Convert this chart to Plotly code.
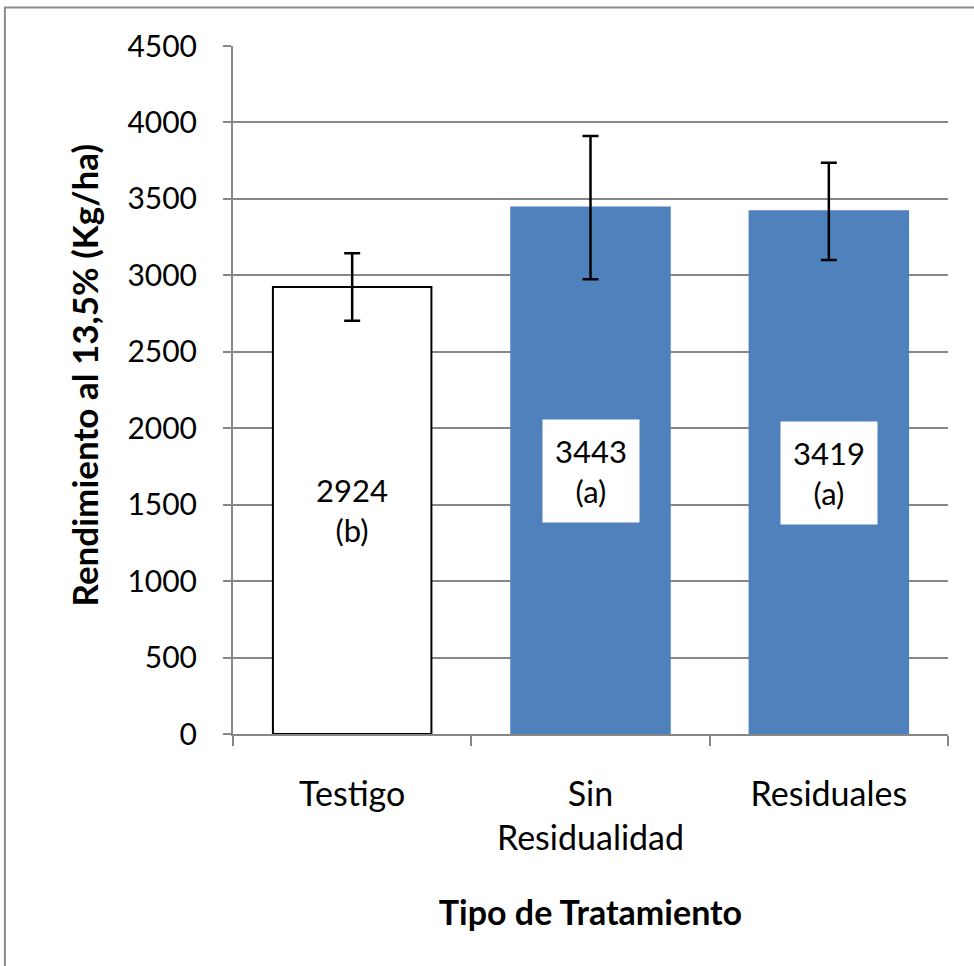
import plotly.graph_objects as go

categories = ["Testigo", "Sin<br>Residualidad", "Residuales"]
values = [2924, 3443, 3419]
errors = [221, 469, 318]
letters = ["(b)", "(a)", "(a)"]
fill_colors = ["white", "#4F81BD", "#4F81BD"]
line_colors = ["black", "#4F81BD", "#4F81BD"]
y_ticks = [0, 500, 1000, 1500, 2000, 2500, 3000, 3500, 4000, 4500]

FONT = "Lato"
GRID = "#868686"

fig = go.Figure()
fig.add_trace(go.Bar(
    x=categories, y=values,
    marker=dict(color=fill_colors, line=dict(color=line_colors, width=2)),
    error_y=dict(type="data", array=errors, visible=True, color="black", thickness=2.5, width=8),
    width=0.665,
    showlegend=False,
))

for c, v, l in zip(categories, values, letters):
    fig.add_annotation(
        x=c, y=v / 2, text=f"{v}<br>{l}", showarrow=False,
        font=dict(family=FONT, size=31, color="black"),
        bgcolor="white", borderpad=12, xref="x", yref="y",
    )

# y-axis title (placed slightly above centre as in the reference)
fig.add_annotation(
    text="<b>Rendimiento al 13,5% (Kg/ha)</b>", textangle=-90,
    xref="paper", yref="paper", x=-0.209, y=0.522,
    xanchor="center", yanchor="middle", showarrow=False,
    font=dict(family=FONT, size=35, color="black"),
)

fig.add_shape(type="rect", xref="paper", yref="paper",
              x0=-0.319, x1=1.06, y0=-0.36, y1=1.056,
              line=dict(color="#8c8c8c", width=2), layer="below")

fig.update_layout(
    width=974, height=966, autosize=False,
    margin=dict(l=233, r=26, t=46, b=232),
    paper_bgcolor="white", plot_bgcolor="white",
    font=dict(family=FONT, color="black"),
    xaxis=dict(
        showline=True, linecolor=GRID, linewidth=2,
        ticks="outside", tickson="boundaries", ticklen=10, tickcolor=GRID, tickwidth=2,
        tickfont=dict(size=34, family=FONT), ticklabelstandoff=29,
        title=dict(text="<b>Tipo de Tratamiento</b>", font=dict(size=34, family=FONT), standoff=45),
        showgrid=False,
    ),
    yaxis=dict(
        range=[0, 4500], tickvals=y_ticks,
        showline=True, linecolor=GRID, linewidth=2,
        ticks="outside", ticklen=8, tickcolor=GRID, tickwidth=2,
        showgrid=True, gridcolor=GRID, gridwidth=2,
        tickfont=dict(size=30, family=FONT), ticklabelstandoff=20,
        zeroline=False,
    ),
)

fig.write_html("out.html", config={"displayModeBar": False},
               post_script="document.body.style.margin='0';document.body.style.padding='0';")
